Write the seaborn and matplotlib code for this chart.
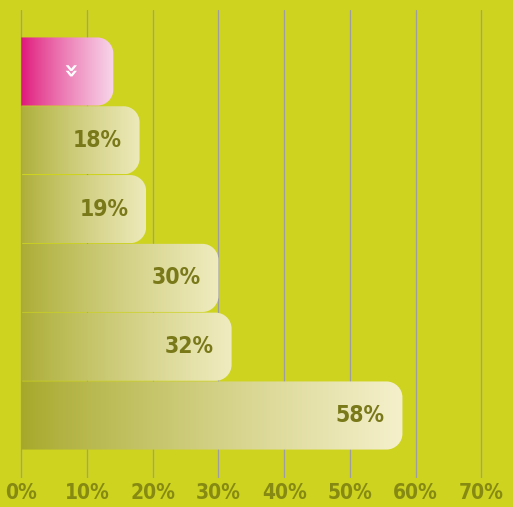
import numpy as np
import pandas as pd
import matplotlib
matplotlib.use("Agg")
import matplotlib.pyplot as plt
import seaborn as sns
from matplotlib.path import Path
from matplotlib.patches import PathPatch
from matplotlib.colors import to_rgb
from matplotlib import font_manager as fm

# ---- data ----
categories = ["Item A", "Item B", "Item C", "Item D", "Item E", "Item F"]
values = [14, 18, 19, 30, 32, 58]
labels = ["»", "18%", "19%", "30%", "32%", "58%"]
xticks = [0, 10, 20, 30, 40, 50, 60, 70]
xticklabels = ["0%", "10%", "20%", "30%", "40%", "50%", "60%", "70%"]

BG = "#cdd31f"
GRID = "#9d9da2"
TEXT = "#878a12"
LABEL = "#79791a"

sns.set_theme(style="white")
FONT = ["DejaVu Sans"]
plt.rcParams["font.family"] = FONT

cond = [f.fname for f in fm.fontManager.ttflist
        if "DejaVu Sans" in f.name and "ondensed" in f.fname and "Bold" in f.fname
        and "Oblique" not in f.fname]
if cond:
    FP = fm.FontProperties(fname=cond[0])
else:
    FP = fm.FontProperties(family="DejaVu Sans", weight="bold")

W, H = 513, 507
fig = plt.figure(figsize=(W / 100, H / 100), dpi=100, facecolor=BG)
ax = fig.add_axes([0, (H - 478) / H, 1, 468 / H])
ax.set_facecolor(BG)

df = pd.DataFrame({"cat": categories, "val": values})
sns.barplot(data=df, x="val", y="cat", orient="h", width=0.99, ax=ax,
            color="#d0d080", zorder=2)

px_per_x = (481.3 - 21.3) / 70.0
px_per_y = 68.8
x0 = -21.3 / px_per_x
x1 = (W - 21.3) / px_per_x
y_top = -(71.5 - 10) / px_per_y
y_bot = (478 - 71.5) / px_per_y

ax.set_xticks(xticks)
ax.set_xticklabels(xticklabels)
ax.xaxis.grid(True, color=GRID, linewidth=0.9, zorder=0)
ax.yaxis.grid(False)
ax.set_axisbelow(True)
ax.tick_params(axis="x", length=0, pad=3.5, labelcolor=TEXT)
for t in ax.get_xticklabels():
    t.set_fontproperties(FP)
    t.set_fontsize(15)
    t.set_color(TEXT)
ax.set_yticks([])
ax.set_xlabel("")
ax.set_ylabel("")
for s in ax.spines.values():
    s.set_visible(False)

olive_l = np.array(to_rgb("#a6a82a"))
cream_r = np.array(to_rgb("#f5f0cb"))
pink_l = np.array(to_rgb("#de1377"))
pink_r = np.array(to_rgb("#f8d6ea"))

rpx = 16.0
rx = rpx / px_per_x
ry = rpx / px_per_y
k = 0.5523

def right_round_path(xa, ya, xb, yb):
    verts = [
        (xa, ya), (xb - rx, ya),
        (xb - rx + k * rx, ya), (xb, ya + ry - k * ry), (xb, ya + ry),
        (xb, yb - ry),
        (xb, yb - ry + k * ry), (xb - rx + k * rx, yb), (xb - rx, yb),
        (xa, yb), (xa, ya),
    ]
    codes = [Path.MOVETO, Path.LINETO,
             Path.CURVE4, Path.CURVE4, Path.CURVE4,
             Path.LINETO,
             Path.CURVE4, Path.CURVE4, Path.CURVE4,
             Path.LINETO, Path.CLOSEPOLY]
    return Path(verts, codes)

patches = list(ax.patches)
for p in patches:
    xa, ya = p.get_x(), p.get_y()
    w, h = p.get_width(), p.get_height()
    xb, yb = xa + w, ya + h
    p.set_visible(False)
    i = int(round(ya + h / 2))
    path = right_round_path(xa, ya, xb, yb)
    z = 3 + (len(patches) - i) * 0.1
    clip = PathPatch(path, facecolor="none", edgecolor="none", zorder=z)
    ax.add_patch(clip)
    n = 256
    t = np.linspace(0, 1, n)
    if i == 0:
        cl, cr = pink_l, pink_r
        tt = t ** 0.8
    else:
        frac = values[i] / max(values)
        cl = olive_l + (1 - frac) * 0.12 * (cream_r - olive_l)
        cr = cream_r + (1 - frac) * 0.45 * (np.array(to_rgb("#dcdb96")) - cream_r)
        tt = t ** 0.85
    grad = cl[None, :] * (1 - tt[:, None]) + cr[None, :] * tt[:, None]
    img = np.tile(grad[None, :, :], (8, 1, 1))
    im = ax.imshow(img, extent=(xa, xb, yb, ya), aspect="auto",
                   interpolation="bilinear", zorder=z)
    im.set_clip_path(clip)

ax.set_xlim(x0, x1)
ax.set_ylim(y_bot, y_top)

for i, (v, lab) in enumerate(zip(values, labels)):
    if i == 0:
        ax.text(v - 7.0, i, lab, rotation=-90, ha="center", va="center",
                color="white", fontsize=17, fontweight="bold",
                family=["DejaVu Sans"], zorder=10)
    else:
        tx = ax.text(v - 6.4, i, lab, ha="center", va="center", color=LABEL,
                     zorder=10)
        tx.set_fontproperties(FP)
        tx.set_fontsize(16.5)

fig.savefig("out.png", dpi=100, facecolor=BG)
